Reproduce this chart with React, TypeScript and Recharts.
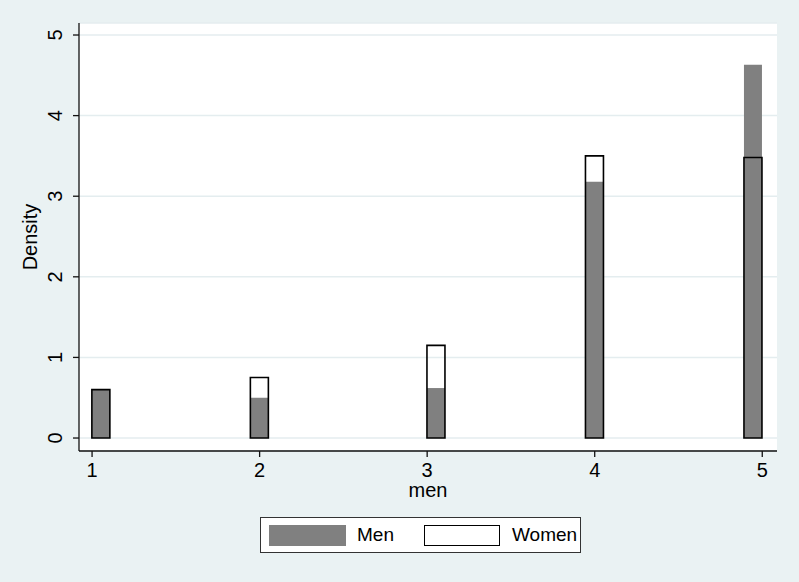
import { ComposedChart, Bar, XAxis, YAxis, CartesianGrid } from 'recharts';

// histogram bins (position on the "men" scale) and densities
const binCenters = [1.054, 2.0, 3.054, 4.0, 4.946];
const menDensity = [0.6, 0.5, 0.62, 3.18, 4.63];
const womenDensity = [0.6, 0.75, 1.15, 3.5, 3.48];
const xTicks = [1, 2, 3, 4, 5];
const yTicks = [0, 1, 2, 3, 4, 5];

const data = binCenters.map((x, i) => ({ x, men: menDensity[i], women: womenDensity[i] }));

const FONT = '"Liberation Sans", Arial, sans-serif';
const BG = '#eaf2f3';

const YTick = (props: any) => {
  const { x, y, payload } = props;
  return (
    <text
      x={x}
      y={y}
      transform={`rotate(-90, ${x}, ${y})`}
      textAnchor="middle"
      fontSize={20}
      fontFamily={FONT}
      fill="#000"
    >
      {payload.value}
    </text>
  );
};

export default function App() {
  return (
    <div style={{ position: 'absolute', left: 0, top: 0, width: 799, height: 582, background: BG, fontFamily: FONT }}>
      <ComposedChart
        width={799}
        height={582}
        data={data}
        margin={{ top: 23, right: 22, left: 19, bottom: 101 }}
        barGap={-18}
      >
        <CartesianGrid vertical={false} fill="#fff" stroke="#e4edef" strokeWidth={1.5} />
        <XAxis
          dataKey="x"
          type="number"
          domain={[0.922, 5.088]}
          allowDataOverflow
          ticks={xTicks}
          height={30}
          tickSize={6}
          tickMargin={6}
          axisLine={{ stroke: '#111', strokeWidth: 1.3 }}
          tickLine={{ stroke: '#111', strokeWidth: 1.3 }}
          tick={{ fill: '#000', fontSize: 20, fontFamily: FONT }}
          label={{ value: 'men', position: 'bottom', offset: 2, fill: '#000', fontSize: 20, fontFamily: FONT }}
        />
        <YAxis
          type="number"
          domain={[-0.161, 5.149]}
          allowDataOverflow
          ticks={yTicks}
          width={60}
          tickSize={6}
          tickMargin={11}
          axisLine={{ stroke: '#111', strokeWidth: 1.3 }}
          tickLine={{ stroke: '#111', strokeWidth: 1.3 }}
          tick={<YTick />}
          label={{
            content: (p: any) => {
              const vb = p.viewBox;
              const cx = vb.x + 18;
              const cy = vb.y + vb.height / 2;
              return (
                <text x={cx} y={cy} transform={`rotate(-90, ${cx}, ${cy})`} textAnchor="middle" fontSize={20} fontFamily={FONT} fill="#000">
                  Density
                </text>
              );
            },
          }}
        />
        <Bar dataKey="men" name="Men" fill="#808080" barSize={18} isAnimationActive={false} />
        <Bar dataKey="women" name="Women" fill="none" stroke="#000" strokeWidth={1.6} barSize={18} isAnimationActive={false} />
      </ComposedChart>
      <div
        style={{
          position: 'absolute', left: 260, top: 517, width: 321, height: 36,
          background: '#fff', border: '1px solid #333', boxSizing: 'border-box',
          fontSize: 19, color: '#000',
        }}
      >
        <div style={{ position: 'absolute', left: 8, top: 7, width: 77, height: 21, background: '#808080' }} />
        <span style={{ position: 'absolute', left: 96, top: 6, lineHeight: '22px' }}>Men</span>
        <div style={{ position: 'absolute', left: 163, top: 7, width: 76, height: 21, border: '1.3px solid #000', boxSizing: 'border-box' }} />
        <span style={{ position: 'absolute', left: 251, top: 6, lineHeight: '22px' }}>Women</span>
      </div>
    </div>
  );
}
